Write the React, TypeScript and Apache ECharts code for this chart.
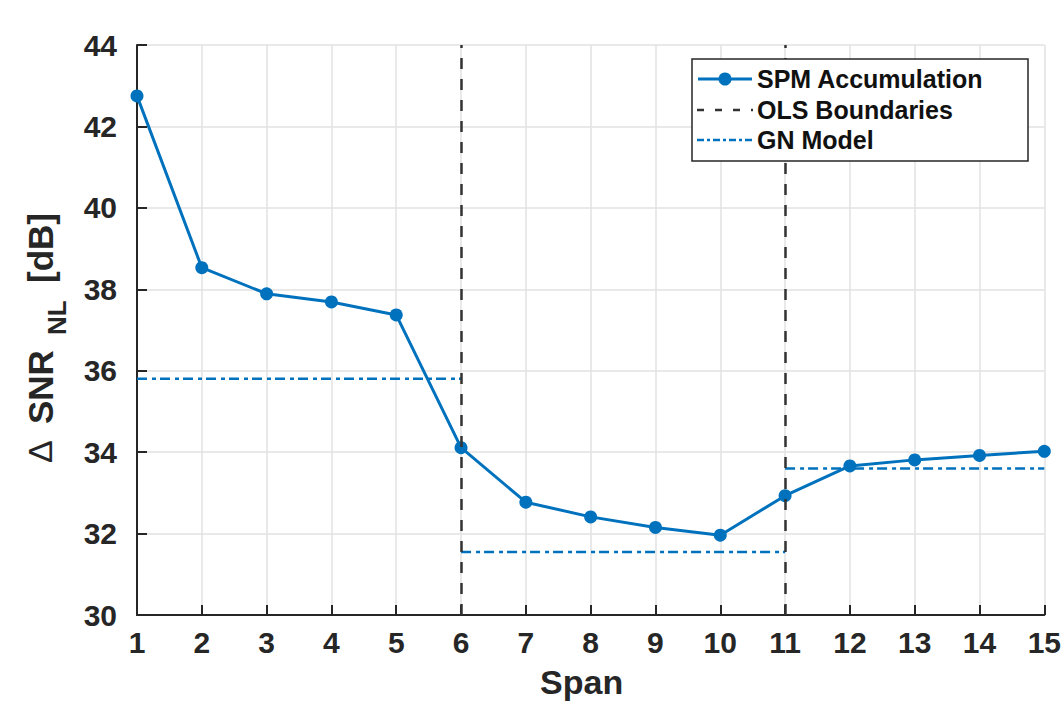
import React, { useEffect, useRef } from "react";
import * as echarts from "echarts";

const spans = [1, 2, 3, 4, 5, 6, 7, 8, 9, 10, 11, 12, 13, 14, 15];
const spmAccumulation = [42.75, 38.53, 37.89, 37.69, 37.37, 34.11, 32.77, 32.41, 32.15, 31.96, 32.93, 33.66, 33.81, 33.92, 34.02];
const olsBoundaries = [6, 11];
const gnStarts = [1, 6, 11];
const gnEnds = [6, 11, 15];
const gnValues = [35.8, 31.55, 33.6];
const yMin = 30;
const yMax = 44;
const yStep = 2;
const legendLabels = ["SPM Accumulation", "OLS Boundaries", "GN Model"];

export default function App() {
  const ref = useRef<HTMLDivElement>(null);
  useEffect(() => {
    const chart = echarts.init(ref.current!, null, { renderer: "svg" });
    const font = "'Liberation Sans', Arial, Helvetica, sans-serif";
    const blue = "#0072BD";
    const dark = "#262626";
    const gnDash = [10, 5, 4, 4];
    const olsDash = [11, 10];

    const gnSeries = gnValues.map((v, i) => ({
      name: "GN Model",
      type: "line",
      data: [
        [gnStarts[i], v],
        [gnEnds[i], v],
      ],
      symbol: "none",
      silent: true,
      z: 3,
      lineStyle: { color: blue, width: 2.5, type: gnDash },
    }));

    const legendX = 692;
    const legendY = 59;
    const rowYs = [79, 110, 140];
    const Z = 100;

    chart.setOption({
      animation: false,
      backgroundColor: "#ffffff",
      textStyle: { fontFamily: font },
      grid: { left: 137, right: 17, top: 45, bottom: 88, containLabel: false },
      xAxis: {
        type: "value",
        min: 1,
        max: 15,
        interval: 1,
        name: "Span",
        nameLocation: "middle",
        nameGap: 50,
        nameTextStyle: { fontSize: 34, fontWeight: "bold", color: dark, fontFamily: font, padding: [0, 18, 0, 0] },
        axisLine: { show: true, onZero: false, lineStyle: { color: dark, width: 2 } },
        axisTick: { show: true, inside: true, length: 10, lineStyle: { color: dark, width: 2 } },
        axisLabel: { fontSize: 30, fontWeight: "bold", color: dark, margin: 12, fontFamily: font },
        splitLine: { show: true, lineStyle: { color: "#e2e2e2", width: 1.5 } },
      },
      yAxis: {
        type: "value",
        min: yMin,
        max: yMax,
        interval: yStep,
        axisLine: { show: true, onZero: false, lineStyle: { color: dark, width: 2 } },
        axisTick: { show: true, inside: true, length: 10, lineStyle: { color: dark, width: 2 } },
        axisLabel: { fontSize: 30, fontWeight: "bold", color: dark, margin: 20, fontFamily: font },
        splitLine: { show: true, lineStyle: { color: "#e2e2e2", width: 1.5 } },
      },
      series: [
        {
          name: "OLS Boundaries",
          type: "line",
          data: [],
          silent: true,
          markLine: {
            silent: true,
            symbol: "none",
            label: { show: false },
            lineStyle: { color: "#333333", width: 2.5, type: olsDash },
            data: olsBoundaries.map((b) => ({ xAxis: b })),
          },
          z: 2,
        },
        ...gnSeries,
        {
          name: "SPM Accumulation",
          type: "line",
          data: spans.map((s, i) => [s, spmAccumulation[i]]),
          symbol: "circle",
          symbolSize: 13,
          z: 4,
          lineStyle: { color: blue, width: 3 },
          itemStyle: { color: blue },
        },
      ],
      graphic: [
        {
          type: "group",
          x: 40,
          y: 340,
          rotation: Math.PI / 2,
          children: [
            { type: "text", x: -123, y: 0, style: { text: "Δ", font: `normal 34px ${font}`, fill: dark, textAlign: "left", textVerticalAlign: "middle" } },
            { type: "text", x: -84, y: 0, style: { text: "SNR", font: `bold 35px ${font}`, fill: dark, textAlign: "left", textVerticalAlign: "middle" } },
            { type: "text", x: 5, y: 17, style: { text: "NL", font: `bold 26px ${font}`, fill: dark, textAlign: "left", textVerticalAlign: "middle" } },
            { type: "text", x: 57, y: 0, style: { text: "[dB]", font: `bold 35px ${font}`, fill: dark, textAlign: "left", textVerticalAlign: "middle" } },
          ],
        },
        { type: "rect", z: Z, shape: { x: legendX, y: legendY, width: 336, height: 102 }, style: { fill: "#ffffff", stroke: dark, lineWidth: 1.5 } },
        { type: "line", z: Z + 1, shape: { x1: 698, y1: rowYs[0], x2: 752, y2: rowYs[0] }, style: { stroke: blue, lineWidth: 3 } },
        { type: "circle", z: Z + 2, shape: { cx: 725, cy: rowYs[0], r: 6.5 }, style: { fill: blue } },
        { type: "line", z: Z + 1, shape: { x1: 697, y1: rowYs[1], x2: 753, y2: rowYs[1] }, style: { stroke: "#333333", lineWidth: 2.5, lineDash: [7, 11] } },
        { type: "line", z: Z + 1, shape: { x1: 697, y1: rowYs[2], x2: 753, y2: rowYs[2] }, style: { stroke: blue, lineWidth: 2.5, lineDash: [7, 3, 3, 3] } },
        ...legendLabels.map((t, i) => ({
          type: "text",
          z: Z + 1,
          x: 757,
          y: rowYs[i],
          style: { text: t, font: `bold 25px ${font}`, fill: "#111111", textAlign: "left", textVerticalAlign: "middle" },
        })),
      ],
    });
    return () => chart.dispose();
  }, []);
  return <div ref={ref} style={{ position: "absolute", left: 0, top: 0, width: 1064, height: 704 }} />;
}
